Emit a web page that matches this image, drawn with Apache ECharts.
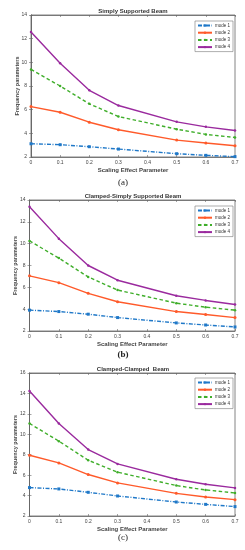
<!DOCTYPE html>
<html><head><meta charset="utf-8">
<script src="https://cdn.jsdelivr.net/npm/echarts@6/dist/echarts.min.js"></script>
<style>html,body{margin:0;padding:0;background:#fff}#c{width:245px;height:550px}</style>
</head><body><div id="c"></div>
<script>
const xValues = [0, 0.1, 0.2, 0.3, 0.5, 0.6, 0.7];
const seriesNames = ['mode 1', 'mode 2', 'mode 3', 'mode 4'];
const panelTitles = ['Simply Supported Beam', 'Clamped-Simply Supported Beam', 'Clamped-Clamped  Beam'];
const panelCaptions = ['(a)', '(b)', '(c)'];
const yMaxes = [14, 14, 16];

const ssMode1 = [3.12, 3.04, 2.87, 2.67, 2.28, 2.14, 2.03];
const ssMode2 = [6.26, 5.78, 4.94, 4.30, 3.43, 3.18, 2.95];
const ssMode3 = [9.40, 8.00, 6.49, 5.42, 4.35, 3.91, 3.65];
const ssMode4 = [12.57, 9.93, 7.64, 6.35, 4.97, 4.55, 4.24];

const csMode1 = [3.91, 3.78, 3.54, 3.23, 2.74, 2.55, 2.37];
const csMode2 = [7.05, 6.43, 5.45, 4.68, 3.78, 3.51, 3.23];
const csMode3 = [10.25, 8.68, 6.95, 5.75, 4.55, 4.18, 3.91];
const csMode4 = [13.38, 10.46, 8.00, 6.65, 5.23, 4.80, 4.43];

const ccMode1 = [4.78, 4.65, 4.32, 3.96, 3.37, 3.14, 2.92];
const ccMode2 = [7.95, 7.20, 6.06, 5.24, 4.22, 3.86, 3.60];
const ccMode3 = [11.06, 9.33, 7.46, 6.29, 4.98, 4.55, 4.26];
const ccMode4 = [14.23, 11.06, 8.51, 7.10, 5.60, 5.11, 4.75];

const panels = [
  [ssMode1, ssMode2, ssMode3, ssMode4],
  [csMode1, csMode2, csMode3, csMode4],
  [ccMode1, ccMode2, ccMode3, ccMode4]
];

const colors = ['#1f78c8', '#ff5a2a', '#3fae2a', '#9a2a9e'];
const lineTypes = [[4, 1.5, 1, 1.5], 'solid', [3.5, 2.5], 'solid'];
const symbols = ['rect', 'circle', 'circle', 'circle'];
const symSizes = [3, 3, 2.5, 2.5];

const layout = [
  {top: 15, height: 142, left: 31, titleY: 11, capY: 183, legTop: 21, capBold: 'normal'},
  {top: 200, height: 131, left: 29.5, titleY: 196, capY: 355, legTop: 206, capBold: 'bold'},
  {top: 373, height: 143, left: 29.5, titleY: 369, capY: 538, legTop: 378, capBold: 'normal'}
];

const font = 'Liberation Sans, Arial, sans-serif';
const tickStyle = {show: true, inside: true, length: 2, lineStyle: {color: '#666', width: 0.6}};
const lineAx = {show: true, lineStyle: {color: '#666', width: 0.8}};
const grid = [], xAxis = [], yAxis = [], series = [], legend = [], graphic = [];
layout.forEach((L, p) => {
  grid.push({left: L.left, right: 10, top: L.top, height: L.height, show: true, borderColor: '#666', borderWidth: 0.8, backgroundColor: '#fff'});
  const common = {min: 0, max: 0.7, interval: 0.1, gridIndex: p, type: 'value'};
  xAxis.push(Object.assign({}, common, {
    position: 'bottom',
    name: 'Scaling Effect Parameter', nameLocation: 'middle', nameGap: 10.5, nameMoveOverlap: false,
    nameTextStyle: {fontSize: 6, fontWeight: 'bold', color: '#444', fontFamily: font},
    axisLine: lineAx, axisTick: tickStyle,
    axisLabel: {fontSize: 5, color: '#444', margin: 3.5, fontFamily: font,
      formatter: v => String(Math.round(v * 10) / 10)},
    splitLine: {show: false}
  }));
  xAxis.push(Object.assign({}, common, {
    position: 'top', axisLine: lineAx, axisTick: tickStyle,
    axisLabel: {show: false}, splitLine: {show: false}
  }));
  const ycommon = {min: 2, max: yMaxes[p], interval: 2, gridIndex: p, type: 'value'};
  yAxis.push(Object.assign({}, ycommon, {
    position: 'left',
    name: 'Frequency parameters', nameLocation: 'middle', nameGap: 11, nameRotate: 90, nameMoveOverlap: false,
    nameTextStyle: {fontSize: 5.5, fontWeight: 'bold', color: '#444', fontFamily: font},
    axisLine: lineAx, axisTick: tickStyle,
    axisLabel: {fontSize: 5, color: '#444', margin: 4, fontFamily: font},
    splitLine: {show: false}
  }));
  yAxis.push(Object.assign({}, ycommon, {
    position: 'right', axisLine: lineAx, axisTick: tickStyle,
    axisLabel: {show: false}, splitLine: {show: false}
  }));
  panels[p].forEach((vals, s) => {
    series.push({
      type: 'line', name: seriesNames[s], xAxisIndex: p * 2, yAxisIndex: p * 2,
      data: xValues.map((x, i) => [x, vals[i]]),
      symbol: symbols[s], symbolSize: symSizes[s], showSymbol: true,
      itemStyle: {color: colors[s]},
      lineStyle: {color: colors[s], width: 1.4, type: lineTypes[s]},
      animation: false, z: 3 + s
    });
  });
  legend.push({
    data: seriesNames, right: 12, top: L.legTop, orient: 'vertical',
    itemWidth: 14, itemHeight: 3, itemGap: 2.2, padding: [2, 3, 2, 2],
    borderColor: '#777', borderWidth: 0.6, backgroundColor: '#fff',
    textStyle: {fontSize: 4.5, color: '#333', fontFamily: font, padding: [0, 0, 0, -2]},
    selectedMode: false
  });
  graphic.push({type: 'text', z: 10,
    style: {text: panelTitles[p], fontSize: 6, fontWeight: 'bold', fill: '#333', fontFamily: font,
      x: 133, y: L.titleY, align: 'center', verticalAlign: 'middle'}});
  graphic.push({type: 'text', z: 10,
    style: {text: panelCaptions[p], fontSize: 9, fontWeight: L.capBold, fill: '#222',
      fontFamily: 'Liberation Serif, Times New Roman, serif', x: 123, y: L.capY, align: 'center', verticalAlign: 'middle'}});
});

const chart = echarts.init(document.getElementById('c'), null, {renderer: 'canvas'});
chart.setOption({animation: false, backgroundColor: '#fff', grid, xAxis, yAxis, series, legend, graphic});
</script></body></html>
